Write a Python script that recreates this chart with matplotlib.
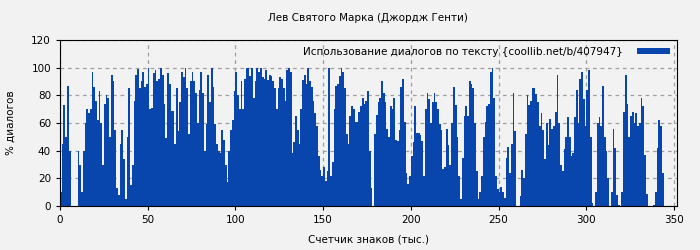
import numpy as np
import matplotlib
matplotlib.use("Agg")
import matplotlib.pyplot as plt

# доля диалогов (%) на каждую тысячу знаков
dialog_pct = [
    10, 45, 73, 50, 87, 40, 0, 0, 0, 0,
    40, 30, 10, 40, 60, 70, 67, 70, 97, 86,
    76, 62, 83, 60, 30, 74, 80, 78, 50, 95,
    90, 55, 13, 8, 45, 55, 34, 5, 50, 85,
    15, 30, 76, 95, 99, 85, 90, 97, 86, 88,
    100, 70, 71, 96, 98, 90, 92, 100, 95, 74,
    49, 96, 88, 69, 69, 45, 85, 54, 75, 97,
    93, 100, 85, 52, 90, 97, 90, 82, 60, 84,
    97, 82, 40, 59, 95, 75, 100, 86, 59, 45,
    40, 38, 55, 48, 30, 17, 40, 55, 62, 83,
    97, 80, 70, 90, 70, 92, 100, 100, 94, 100,
    78, 90, 100, 97, 100, 93, 92, 98, 91, 95,
    94, 90, 85, 70, 85, 93, 92, 85, 76, 98,
    100, 97, 38, 46, 65, 55, 45, 70, 91, 95,
    88, 100, 90, 86, 76, 67, 58, 36, 26, 22,
    28, 18, 25, 100, 22, 32, 70, 87, 88, 94,
    100, 97, 85, 52, 45, 65, 72, 70, 61, 61,
    68, 72, 78, 74, 76, 83, 40, 13, 0, 52,
    66, 75, 78, 90, 82, 75, 56, 50, 72, 70,
    78, 48, 47, 55, 86, 92, 61, 24, 16, 22,
    36, 46, 72, 53, 53, 51, 47, 22, 70, 82,
    77, 60, 75, 82, 75, 70, 59, 55, 27, 28,
    56, 44, 30, 60, 86, 73, 50, 22, 5, 35,
    65, 72, 65, 90, 88, 85, 60, 25, 5, 10,
    22, 50, 61, 72, 74, 97, 100, 78, 22, 12,
    10, 14, 10, 6, 35, 43, 24, 45, 82, 54,
    0, 0, 7, 26, 20, 52, 80, 73, 76, 85,
    85, 81, 75, 58, 67, 55, 34, 60, 44, 63,
    56, 58, 68, 95, 60, 30, 25, 41, 50, 64,
    50, 36, 38, 64, 84, 60, 92, 97, 77, 58,
    84, 98, 50, 2, 0, 10, 60, 64, 58, 87,
    50, 40, 20, 0, 10, 56, 42, 8, 1, 0,
    10, 68, 95, 74, 50, 65, 68, 60, 67, 58,
    60, 78, 72, 37, 9, 0, 0, 0, 1, 10,
    42, 62, 58, 24, 0,
]
chars_k = np.arange(len(dialog_pct))

title = "Лев Святого Марка (Джордж Генти)"
legend_label = "Использование диалогов по тексту {coollib.net/b/407947}"
x_ticks = [0, 50, 100, 150, 200, 250, 300, 350]
y_ticks = [0, 20, 40, 60, 80, 100, 120]

bg = "#f2f2f2"
blue = "#0845ad"
fs = 7.5

plt.rcParams["font.family"] = ["DejaVu Sans"]
plt.rcParams["font.size"] = fs

fig = plt.figure(figsize=(7, 2.5), dpi=100, facecolor=bg)
ax = fig.add_axes([0.0857, 0.176, 0.881, 0.664])
ax.set_facecolor(bg)

ax.bar(chars_k, dialog_pct, width=1.0, align="edge", color=blue,
       linewidth=0, label=legend_label, zorder=2)

ax.set_xlim(0, 351.5)
ax.set_ylim(0, 120)
ax.set_xticks(x_ticks)
ax.set_yticks(y_ticks)
ax.tick_params(direction="out", length=3, width=0.8, labelsize=fs)
ax.grid(True, color="#a0a0a0", linestyle=(0, (3, 3)), linewidth=0.9, zorder=0)
ax.set_axisbelow(True)

ax.set_title(title, fontsize=fs, pad=14)
ax.set_xlabel("Счетчик знаков (тыс.)", fontsize=fs, labelpad=7)
ax.set_ylabel("% диалогов", fontsize=fs, labelpad=11)

ax.legend(loc="upper right", frameon=False, markerfirst=False,
          handlelength=3.2, handleheight=0.6, fontsize=fs,
          borderaxespad=0.25, handletextpad=1.3)

fig.savefig("out.png", dpi=100, facecolor=bg)
